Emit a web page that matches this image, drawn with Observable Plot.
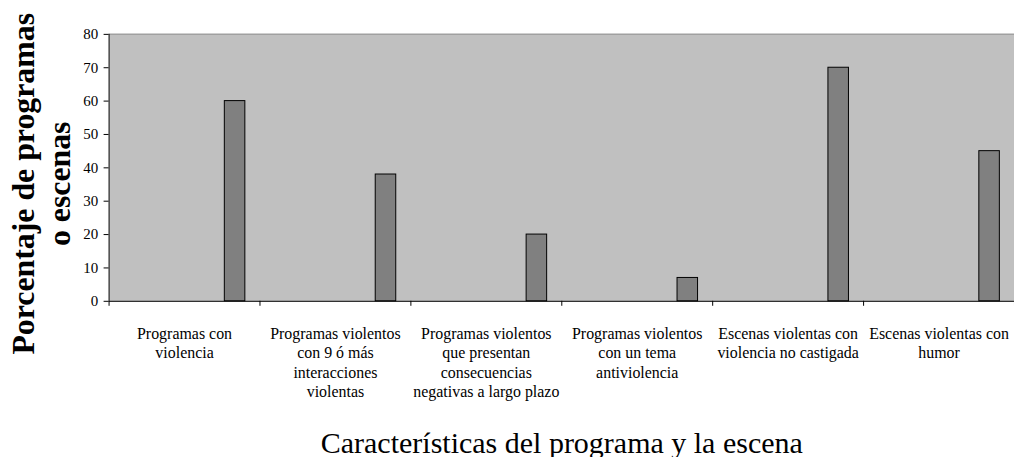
<!DOCTYPE html>
<html><head><meta charset="utf-8">
<script src="https://cdn.jsdelivr.net/npm/d3@7"></script>
<script src="https://cdn.jsdelivr.net/npm/@observablehq/plot@0.6"></script>
<style>
html,body{margin:0;padding:0;background:#fff;overflow:hidden;width:1014px;height:459px}
#chart svg{display:block}
#chart svg text{font-family:"Liberation Serif","Times New Roman",serif}
</style>
</head><body><div id="chart"></div>
<script>
const categories = [
  "Programas con\nviolencia",
  "Programas violentos\ncon 9 ó más\ninteracciones\nviolentas",
  "Programas violentos\nque presentan\nconsecuencias\nnegativas a largo plazo",
  "Programas violentos\ncon un tema\nantiviolencia",
  "Escenas violentas con\nviolencia no castigada",
  "Escenas violentas con\nhumor"
];
const values = [60, 38, 20, 7, 70, 45];
const yTicks = [0, 10, 20, 30, 40, 50, 60, 70, 80];
const yTitleLines = ["Porcentaje de programas", "o escenas"];
const xTitle = "Características del programa y la escena";

const data = categories.map((c, i) => ({i, category: c, value: values[i]}));
const font = "Liberation Serif";

const chart = Plot.plot({
  width: 1018, height: 459,
  marginLeft: 109, marginRight: 0, marginTop: 34, marginBottom: 157,
  style: {fontFamily: font, background: "#fff", color: "#000"},
  x: {domain: [0, categories.length], axis: null},
  y: {domain: [0, 80], axis: null},
  marks: [
    Plot.frame({fill: "#c0c0c0"}),
    Plot.ruleY([80], {stroke: "#a0a0a0", strokeWidth: 1.5}),
    Plot.rectY(data, {x1: d => d.i + 0.767, x2: d => d.i + 0.903, y1: 0, y2: "value",
      fill: "#808080", stroke: "#000", strokeWidth: 1}),
    Plot.axisY({ticks: yTicks, tickSize: 5, tickPadding: 6, fontSize: 15, fontFamily: font,
      stroke: "#000", strokeOpacity: 1, label: null}),
    Plot.axisX({ticks: d3.range(categories.length + 1), tickSize: 5, tickFormat: () => "",
      stroke: "#000", strokeOpacity: 1, label: null}),
    Plot.ruleX([0], {stroke: "#000"}),
    Plot.ruleY([0], {stroke: "#000"}),
    Plot.text(data, {x: d => d.i + 0.5, y: 0, text: "category", lineAnchor: "top", dy: 24,
      fontSize: 16, lineHeight: 1.22, fill: "#000", fontFamily: font}),
    Plot.text([xTitle], {frameAnchor: "bottom", dy: 152, lineAnchor: "bottom", textAnchor: "middle",
      fontSize: 30, fill: "#000", fontFamily: font, className: "xtitle"}),
    Plot.text([yTitleLines[0]], {frameAnchor: "left", dx: -75, dy: 16, rotate: -90, lineAnchor: "bottom",
      textAnchor: "middle", fontSize: 32, fontWeight: "bold", fill: "#000", fontFamily: font, className: "ytitle1"}),
    Plot.text([yTitleLines[1]], {frameAnchor: "left", dx: -39, dy: 16, rotate: -90, lineAnchor: "bottom",
      textAnchor: "middle", fontSize: 32, fontWeight: "bold", fill: "#000", fontFamily: font, className: "ytitle2"})
  ]
});
document.getElementById("chart").append(chart);
const fit = (cls, len) => d3.select(chart).selectAll(`.${cls} text`)
  .attr("textLength", len).attr("lengthAdjust", "spacingAndGlyphs");
fit("xtitle", 484);
fit("ytitle1", 343);
fit("ytitle2", 125);
</script>
</body></html>
